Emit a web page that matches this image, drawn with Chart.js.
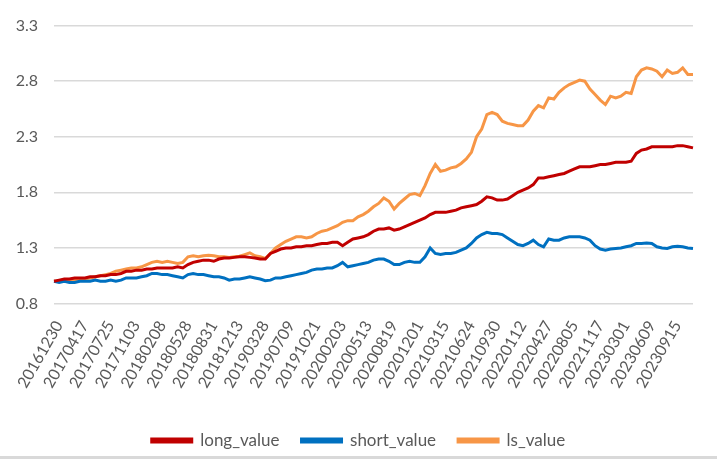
<!DOCTYPE html>
<html>
<head>
<meta charset="utf-8">
<script src="https://cdn.jsdelivr.net/npm/chart.js@4.4.0/dist/chart.umd.min.js"></script>
<style>
  html, body { margin: 0; padding: 0; background: #fff; }
  #wrap { width: 717px; height: 459px; }
</style>
</head>
<body>
<div id="wrap"><canvas id="chart" width="717" height="459"></canvas></div>
<script>
// Tick labels shown on the x axis (one every 5 points)
const tickLabels = ['20161230', '20170417', '20170725', '20171103', '20180208', '20180528',
  '20180831', '20181213', '20190328', '20190709', '20191021', '20200203', '20200513',
  '20200819', '20201201', '20210315', '20210624', '20210930', '20220112', '20220427',
  '20220805', '20221117', '20230301', '20230609', '20230915'];
const pointsPerLabel = 5;

const longValue = [
  1.00, 1.01, 1.02, 1.02, 1.03, 1.03, 1.03, 1.04, 1.04, 1.05,
  1.05, 1.06, 1.06, 1.07, 1.09, 1.09, 1.10, 1.10, 1.11, 1.11,
  1.12, 1.12, 1.12, 1.12, 1.13, 1.12, 1.15, 1.17, 1.18, 1.19,
  1.19, 1.18, 1.20, 1.21, 1.21, 1.215, 1.22, 1.22, 1.215, 1.21,
  1.20, 1.20, 1.25, 1.27, 1.29, 1.30, 1.30, 1.31, 1.31, 1.32,
  1.32, 1.33, 1.34, 1.34, 1.35, 1.35, 1.32, 1.35, 1.38, 1.39,
  1.40, 1.42, 1.45, 1.47, 1.47, 1.48, 1.46, 1.47, 1.49, 1.51,
  1.53, 1.55, 1.57, 1.60, 1.62, 1.62, 1.62, 1.63, 1.64, 1.66,
  1.67, 1.68, 1.69, 1.72, 1.76, 1.75, 1.73, 1.73, 1.74, 1.77,
  1.80, 1.82, 1.84, 1.87, 1.93, 1.93, 1.94, 1.95, 1.96, 1.97,
  1.99, 2.01, 2.03, 2.03, 2.03, 2.04, 2.05, 2.05, 2.06, 2.07,
  2.07, 2.07, 2.08, 2.15, 2.18, 2.19, 2.21, 2.21, 2.21, 2.21,
  2.21, 2.22, 2.22, 2.21, 2.20
];

const shortValue = [
  1.00, 0.99, 1.00, 0.99, 0.99, 1.00, 1.00, 1.00, 1.01, 1.00,
  1.00, 1.01, 1.00, 1.01, 1.03, 1.03, 1.03, 1.04, 1.05, 1.07,
  1.07, 1.06, 1.06, 1.05, 1.04, 1.03, 1.06, 1.07, 1.06, 1.06,
  1.05, 1.04, 1.04, 1.03, 1.01, 1.02, 1.02, 1.03, 1.04, 1.03,
  1.02, 1.005, 1.01, 1.03, 1.03, 1.04, 1.05, 1.06, 1.07, 1.08,
  1.10, 1.11, 1.11, 1.12, 1.12, 1.14, 1.17, 1.13, 1.14, 1.15,
  1.16, 1.17, 1.19, 1.20, 1.20, 1.18, 1.15, 1.15, 1.17, 1.18,
  1.17, 1.17, 1.22, 1.30, 1.25, 1.24, 1.25, 1.25, 1.26, 1.28,
  1.30, 1.34, 1.39, 1.42, 1.44, 1.43, 1.43, 1.42, 1.39, 1.36,
  1.33, 1.32, 1.34, 1.37, 1.33, 1.31, 1.38, 1.37, 1.37, 1.39,
  1.40, 1.40, 1.40, 1.39, 1.37, 1.32, 1.29, 1.28, 1.29, 1.295,
  1.30, 1.31, 1.32, 1.34, 1.34, 1.345, 1.34, 1.31, 1.30, 1.295,
  1.31, 1.315, 1.31, 1.30, 1.295
];

const lsValue = [
  1.00, 1.00, 1.01, 1.01, 1.01, 1.02, 1.02, 1.03, 1.04, 1.05,
  1.06, 1.07, 1.09, 1.10, 1.11, 1.12, 1.12, 1.13, 1.15, 1.17,
  1.18, 1.17, 1.18, 1.17, 1.16, 1.17, 1.22, 1.23, 1.22, 1.23,
  1.235, 1.23, 1.22, 1.22, 1.215, 1.22, 1.225, 1.24, 1.255, 1.23,
  1.22, 1.205, 1.25, 1.30, 1.33, 1.36, 1.38, 1.40, 1.40, 1.39,
  1.40, 1.43, 1.45, 1.46, 1.48, 1.50, 1.53, 1.545, 1.545, 1.58,
  1.60, 1.63, 1.67, 1.70, 1.75, 1.72, 1.65, 1.70, 1.74, 1.78,
  1.79, 1.77, 1.86, 1.97, 2.05, 1.99, 2.00, 2.02, 2.03, 2.06,
  2.10, 2.16, 2.30, 2.37, 2.50, 2.52, 2.50, 2.44, 2.42, 2.41,
  2.40, 2.40, 2.45, 2.53, 2.58, 2.56, 2.65, 2.64, 2.70, 2.74,
  2.77, 2.79, 2.81, 2.80, 2.73, 2.68, 2.63, 2.59, 2.665, 2.65,
  2.665, 2.70, 2.69, 2.84, 2.90, 2.92, 2.91, 2.89, 2.84, 2.90,
  2.87, 2.88, 2.92, 2.86, 2.86
];

const FONT = "Lato, 'Liberation Sans', sans-serif";
const TEXT = '#595959';

// one category per point; only every 5th gets a label
const categories = longValue.map((v, i) => i);

// white background and the light grey strip along the bottom edge
const bottomStrip = {
  id: 'bottomStrip',
  beforeDraw(chart) {
    const ctx = chart.ctx;
    ctx.save();
    ctx.fillStyle = '#ffffff';
    ctx.fillRect(0, 0, chart.width, chart.height);
    ctx.fillStyle = '#d9d9d9';
    ctx.fillRect(0, 456, chart.width, 3);
    ctx.restore();
  }
};

function series(label, data, color) {
  return {
    label: label,
    data: data,
    borderColor: color,
    backgroundColor: color,
    borderWidth: 3,
    pointRadius: 0,
    tension: 0,
    fill: false
  };
}

new Chart(document.getElementById('chart'), {
  type: 'line',
  data: {
    labels: categories,
    datasets: [
      series('long_value', longValue, '#C00000'),
      series('short_value', shortValue, '#0070C0'),
      series('ls_value', lsValue, '#F79646')
    ]
  },
  options: {
    responsive: false,
    animation: false,
    layout: {
      padding: { left: 0, right: 0, top: 10.4, bottom: 0 }
    },
    plugins: {
      legend: {
        position: 'bottom',
        labels: {
          boxWidth: 40,
          boxHeight: 3,
          padding: 22,
          color: TEXT,
          font: { family: FONT, size: 17 }
        }
      },
      tooltip: { enabled: false }
    },
    scales: {
      x: {
        grid: { display: false },
        border: { display: false },
        ticks: {
          autoSkip: false,
          minRotation: 60,
          maxRotation: 60,
          padding: 6,
          labelOffset: 5,
          color: TEXT,
          font: { family: FONT, size: 16 },
          callback: function(value, index) {
            return index % pointsPerLabel === 0 ? tickLabels[index / pointsPerLabel] : null;
          }
        },
        afterFit: function(scale) { scale.height = 106.5; }
      },
      y: {
        min: 0.8,
        max: 3.3,
        grid: { color: '#d9d9d9', lineWidth: 1.5, drawTicks: false },
        border: { display: false },
        ticks: {
          stepSize: 0.5,
          padding: 16,
          color: TEXT,
          font: { family: FONT, size: 16 },
          callback: v => v.toFixed(1)
        },
        afterFit: function(scale) { scale.width = 54; }
      },
      // empty right-hand axis that only reserves the right margin
      yRight: {
        position: 'right',
        grid: { display: false },
        border: { display: false },
        ticks: { display: false },
        afterFit: function(scale) { scale.width = 24; }
      }
    }
  },
  plugins: [bottomStrip]
});
</script>
</body>
</html>
